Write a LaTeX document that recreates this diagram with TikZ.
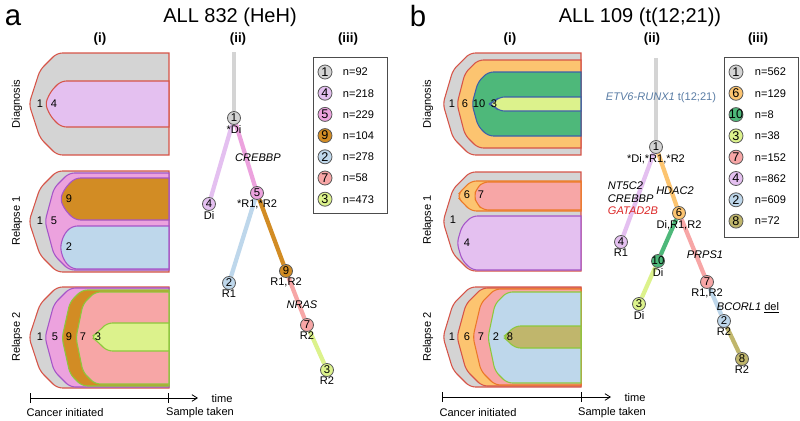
\documentclass[tikz,border=0pt]{standalone}
\usepackage{fontspec}
\setmainfont{Liberation Sans}
\usetikzlibrary{positioning,arrows.meta,backgrounds}

\definecolor{cl1}{RGB}{212,212,212}
\definecolor{cl2}{RGB}{190,215,235}
\definecolor{cl3}{RGB}{220,242,140}
\definecolor{cl4}{RGB}{228,192,240}
\definecolor{cl5}{RGB}{236,162,222}
\definecolor{cl6}{RGB}{252,196,112}
\definecolor{cl7}{RGB}{247,166,166}
\definecolor{cl8}{RGB}{192,182,108}
\definecolor{cl9}{RGB}{210,140,36}
\definecolor{cl10}{RGB}{78,184,122}
\definecolor{lnred}{RGB}{214,84,72}
\definecolor{lnpurple}{RGB}{165,85,200}
\definecolor{lngreen}{RGB}{140,200,60}
\definecolor{lnblue}{RGB}{60,95,170}
\definecolor{lnorange}{RGB}{235,120,40}
\definecolor{etvblue}{RGB}{90,125,165}
\definecolor{gatred}{RGB}{220,40,40}

% clone fish: [style]{tip x}{top}{bottom}{right}{corner}{tip offset}
\newcommand{\fish}[7][]{%
  \draw[#1] (#5,#3) [rounded corners=4pt] -- ({#2+#6+#7},#3) -- ({#2+#7},{#3+#6}) -- (#2,{(#3+#4)/2}) -- ({#2+#7},{#4-#6}) -- ({#2+#6+#7},#4) [sharp corners] -- (#5,#4) -- cycle;}

\tikzset{
  clone/.style={line width=0.8pt},
  small/.style={font=\fontsize{8.3}{9.4}\selectfont, inner sep=0.5pt},
  gene/.style={font=\fontsize{8.3}{9.4}\selectfont\itshape, inner sep=0.5pt},
  head/.style={font=\fontsize{10}{10}\selectfont\bfseries, inner sep=0.5pt},
  tlbl/.style={font=\fontsize{8.3}{9.4}\selectfont, inner sep=0pt},
  tnode/.style={circle, draw=black!65, line width=0.6pt, inner sep=0pt, minimum size=9.75pt, font=\fontsize{8.5}{9}\selectfont, label distance=0pt},
  lnode/.style={circle, draw=black!65, line width=0.6pt, inner sep=0pt, minimum size=10.5pt, font=\fontsize{9.5}{10}\selectfont},
  edge/.style={line width=3.2pt},
  axis/.style={line width=0.6pt, {Bar[width=7pt]}-{Straight Barb[length=4pt,width=5pt]}},
}

\begin{document}
\begin{tikzpicture}[x=0.75pt,y=0.75pt,yscale=-1,xscale=1]
\useasboundingbox (0,0) rectangle (800,421);

% Panel letters and titles
\node[font=\fontsize{22}{22}\selectfont, inner sep=0pt] (panA) at (13,18) {a};
\node[font=\fontsize{15}{15}\selectfont, inner sep=0pt] (titA) at (230,17) {ALL 832 (HeH)};
\node[head] (iA) at (100,39) {(i)};
\node[head] (iiA) at (238,39) {(ii)};
\node[head] (iiiA) at (348,39) {(iii)};
\node[font=\fontsize{22}{22}\selectfont, inner sep=0pt] (panB) at (418,16) {b};
\node[font=\fontsize{15}{15}\selectfont, inner sep=0pt] (titB) at (640,17) {ALL 109 (t(12;21))};
\node[head] (iB) at (510,39) {(i)};
\node[head] (iiB) at (652,39) {(ii)};
\node[head] (iiiB) at (758,39) {(iii)};

%% ---------- panel a (i) ----------
% Diagnosis
\fish[clone, fill=cl1, draw=lnred]{29}{53}{155}{169}{17}{11}
\fish[clone, fill=cl4, draw=lnred]{45}{81}{127}{169}{10}{6}
% Relapse 1
\fish[clone, fill=cl1, draw=lnred]{29}{171}{272}{169}{17}{11}
\fish[clone, fill=cl5, draw=lnpurple]{45}{173}{270}{169}{15}{9}
\fish[clone, fill=cl9, draw=lnpurple]{60}{178}{220}{169}{10}{5}
\fish[clone, fill=cl2, draw=lnpurple]{60}{226}{269}{169}{8}{4}
% Relapse 2
\fish[clone, fill=cl1, draw=lnred]{29}{287}{388}{169}{17}{11}
\fish[clone, fill=cl5, draw=lnpurple]{45}{288}{387}{169}{16}{9}
\fish[clone, fill=cl9, draw=lngreen]{62}{290}{386}{169}{12}{8}
\fish[clone, fill=cl7, draw=lngreen]{76}{292}{384}{169}{12}{7}
\fish[clone, fill=cl3, draw=lngreen]{91}{323}{351}{169}{10}{6}

% Text Node
\node[small] (daA1) at (40,104) {1};
\node[small] (daA4) at (54,104) {4};
\node[small] (raA1) at (40,221) {1};
\node[small] (raA5) at (54,221) {5};
\node[small] (raA9) at (69,199) {9};
\node[small] (raA2) at (69,247) {2};
\node[small] (rbA1) at (40,337) {1};
\node[small] (rbA5) at (55,337) {5};
\node[small] (rbA9) at (69,337) {9};
\node[small] (rbA7) at (83,337) {7};
\node[small] (rbA3) at (98,337) {3};
\node[small, rotate=90] (sdA) at (17,104) {Diagnosis};
\node[small, rotate=90] (srA) at (17,221) {Relapse 1};
\node[small, rotate=90] (ssA) at (17,337) {Relapse 2};

% time axis
\coordinate (taA0) at (30,398);
\coordinate (taA1) at (168,398);
\coordinate (taA2) at (198,398);
\draw[axis] (taA0) -- (taA2);
\draw[line width=0.6pt] (taA1) ++(0,-5) -- ++(0,10);
\node[small] (caA) at (65,413) {Cancer initiated};
\node[small] (saA) at (200,413) {Sample taken};
\node[small] (tmA) at (222,399) {time};

%% ---------- panel a (ii) ----------
\coordinate (stA) at (234,52);
\node[tnode, fill=cl1, label={[tlbl]below:*Di}] (a1) at (234,118) {1};
\node[tnode, fill=cl4, label={[tlbl]below:Di}] (a4) at (209,204) {4};
\node[tnode, fill=cl5, label={[tlbl]below:{*R1,*R2}}] (a5) at (257,193) {5};
\node[tnode, fill=cl2, label={[tlbl]below:R1}] (a2) at (229,283) {2};
\node[tnode, fill=cl9, label={[tlbl]below:{R1,R2}}] (a9) at (286,271) {9};
\node[tnode, fill=cl7, label={[tlbl]below:R2}] (a7) at (307,325) {7};
\node[tnode, fill=cl3, label={[tlbl]below:R2}] (a3) at (327,370) {3};
\node[gene] (crebbpA) at (258,158) {CREBBP};
\node[gene] (nrasA) at (302,305) {NRAS};
\begin{scope}[on background layer]
\draw[edge, draw=cl1] (stA) -- (a1);
\draw[edge, draw=cl4] (a1) -- (a4);
\draw[edge, draw=cl5] (a1) -- (a5);
\draw[edge, draw=cl2] (a5) -- (a2);
\draw[edge, draw=cl9] (a5) -- (a9);
\draw[edge, draw=cl7] (a9) -- (a7);
\draw[edge, draw=cl3] (a7) -- (a3);
\end{scope}

%% ---------- panel a (iii) ----------
\draw[line width=0.6pt, draw=black!70] (313,57) rectangle (387,213);
\foreach \lab/\col/\n [count=\i] in {1/cl1/92, 4/cl4/218, 5/cl5/229, 9/cl9/104, 2/cl2/278, 7/cl7/58, 3/cl3/473}{
  \node[lnode, fill=\col] (lgA\i) at (325,{72+21.2*(\i-1)}) {\makebox[0pt]{\lab}};
  \node[small, anchor=west] (lgtA\i) at (342,{72+21.2*(\i-1)}) {n=\n};
}

%% ---------- panel b (i) ----------
% Diagnosis
\fish[clone, fill=cl1, draw=lnred]{443}{53}{155}{581}{17}{10}
\fish[clone, fill=cl6, draw=lnred]{457}{60}{148}{581}{13}{8}
\fish[clone, fill=cl10, draw=lnblue]{472}{72}{136}{581}{10}{6}
\fish[clone, fill=cl3, draw=lnblue]{488}{97}{111}{581}{5}{6}
% Relapse 1
\fish[clone, fill=cl1, draw=lnred]{443}{172}{271}{581}{17}{10}
\fish[clone, fill=cl6, draw=lnorange]{457}{181}{211}{581}{9}{5}
\fish[clone, fill=cl7, draw=lnorange]{474}{182}{210}{581}{6}{3}
\fish[clone, fill=cl4, draw=lnpurple]{457}{216}{270}{581}{10}{5}
% Relapse 2
\fish[clone, fill=cl1, draw=lnred]{443}{287}{387}{581}{17}{10}
\fish[clone, fill=cl6, draw=lnred]{457}{288}{386}{581}{16}{9}
\fish[clone, fill=cl7, draw=lnorange]{473}{289}{385}{581}{14}{8}
\fish[clone, fill=cl2, draw=lngreen]{488}{292}{383}{581}{12}{7}
\fish[clone, fill=cl8, draw=lngreen]{503}{326}{348}{581}{7}{5}

% Text Node
\node[small] (daB1) at (452,104) {1};
\node[small] (daB6) at (465,104) {6};
\node[small] (daB10) at (479,104) {10};
\node[small] (daB3) at (494,104) {3};
\node[small] (raB1) at (453,220) {1};
\node[small] (raB6) at (467,195) {6};
\node[small] (raB7) at (481,195) {7};
\node[small] (raB4) at (467,243) {4};
\node[small] (rbB1) at (452,337) {1};
\node[small] (rbB6) at (467,337) {6};
\node[small] (rbB7) at (481,337) {7};
\node[small] (rbB2) at (496,337) {2};
\node[small] (rbB8) at (510,337) {8};
\node[small, rotate=90] (sdB) at (428,104) {Diagnosis};
\node[small, rotate=90] (srB) at (428,220) {Relapse 1};
\node[small, rotate=90] (ssB) at (428,337) {Relapse 2};

% time axis
\coordinate (taB0) at (442,397);
\coordinate (taB1) at (581,397);
\coordinate (taB2) at (611,397);
\draw[axis] (taB0) -- (taB2);
\draw[line width=0.6pt] (taB1) ++(0,-5) -- ++(0,10);
\node[small] (caB) at (478,413) {Cancer initiated};
\node[small] (saB) at (612,413) {Sample taken};
\node[small] (tmB) at (635,398) {time};

%% ---------- panel b (ii) ----------
\coordinate (stB) at (656,58);
\node[tnode, fill=cl1, label={[tlbl]below:{*Di,*R1,*R2}}] (b1) at (656,147) {1};
\node[tnode, fill=cl4, label={[tlbl]below:R1}] (b4) at (621,242) {4};
\node[tnode, fill=cl6, label={[tlbl]below:{Di,R1,R2}}] (b6) at (679,213) {6};
\node[tnode, fill=cl10, label={[tlbl]below:Di}] (b10) at (658,261) {\makebox[0pt]{10}};
\node[tnode, fill=cl3, label={[tlbl]below:Di}] (b3) at (639,304) {3};
\node[tnode, fill=cl7, label={[tlbl]below:{R1,R2}}] (b7) at (707,282) {7};
\node[tnode, fill=cl2, label={[tlbl]below:R2}] (b2) at (724,321) {2};
\node[tnode, fill=cl8, label={[tlbl]below:R2}] (b8) at (742,359) {8};
\node[small, text=etvblue] (etvB) at (661,98) {\textit{ETV6-RUNX1} t(12;21)};
\node[gene, align=left, anchor=west] (genesB) at (607,198.5) {NT5C2\\CREBBP\\\textcolor{gatred}{GATAD2B}};
\node[gene] (hdacB) at (675,191) {HDAC2};
\node[gene] (prpsB) at (705,255) {PRPS1};
\node[small] (bcorB) at (748,308) {\textit{BCORL1} \underline{del}};
\begin{scope}[on background layer]
\draw[edge, draw=cl1] (stB) -- (b1);
\draw[edge, draw=cl4] (b1) -- (b4);
\draw[edge, draw=cl6] (b1) -- (b6);
\draw[edge, draw=cl10] (b6) -- (b10);
\draw[edge, draw=cl3] (b10) -- (b3);
\draw[edge, draw=cl7] (b6) -- (b7);
\draw[edge, draw=cl2] (b7) -- (b2);
\draw[edge, draw=cl8] (b2) -- (b8);
\end{scope}

%% ---------- panel b (iii) ----------
\draw[line width=0.6pt, draw=black!70] (724,57) rectangle (798,237);
\foreach \lab/\col/\n [count=\i] in {1/cl1/562, 6/cl6/129, 10/cl10/8, 3/cl3/38, 7/cl7/152, 4/cl4/862, 2/cl2/609, 8/cl8/72}{
  \node[lnode, fill=\col] (lgB\i) at (736,{72+21.3*(\i-1)}) {\makebox[0pt]{\lab}};
  \node[small, anchor=west] (lgtB\i) at (754,{72+21.3*(\i-1)}) {n=\n};
}

\end{tikzpicture}
\end{document}
